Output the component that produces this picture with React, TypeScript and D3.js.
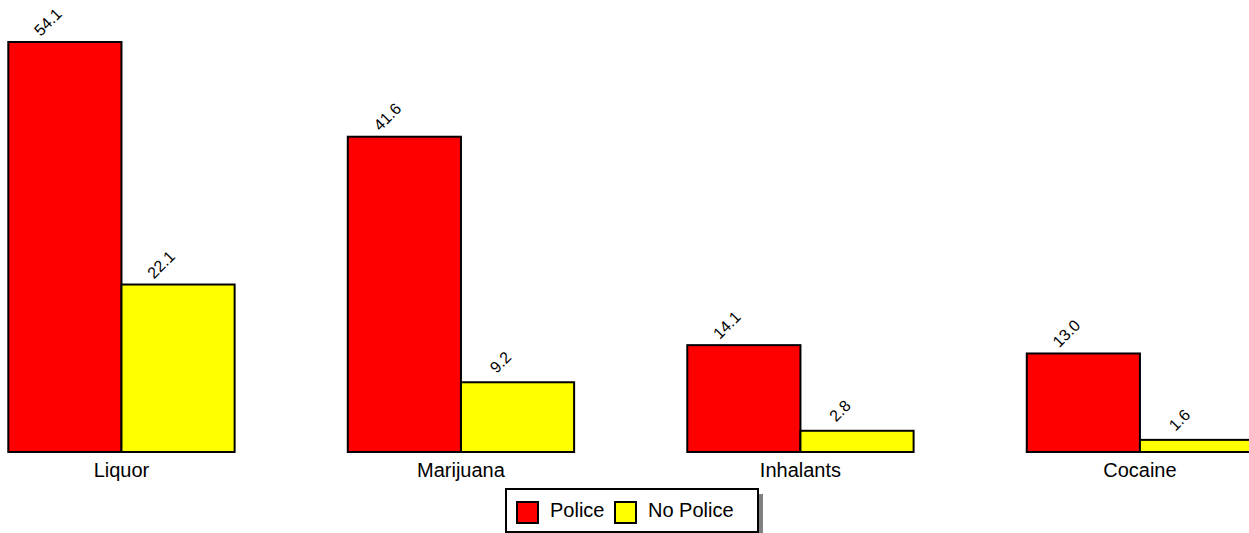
import React from "react";
import * as d3 from "d3";

const categories = ["Liquor", "Marijuana", "Inhalants", "Cocaine"];
const seriesNames = ["Police", "No Police"];
const policeValues = [54.1, 41.6, 14.1, 13.0];
const noPoliceValues = [22.1, 9.2, 2.8, 1.6];
const seriesColors = ["#ff0000", "#ffff00"];

const W = 1249;
const H = 533;
const baseY = 452;
const topY = 42;

export default function App() {
  const series = [policeValues, noPoliceValues];
  const maxV = d3.max(policeValues.concat(noPoliceValues)) as number;
  const x0 = d3
    .scaleBand<string>()
    .domain(categories)
    .range([8.3, 1253.1])
    .paddingInner(1 / 3)
    .paddingOuter(0);
  const x1 = d3
    .scaleBand<string>()
    .domain(seriesNames)
    .range([0, x0.bandwidth()])
    .padding(0);
  const y = d3.scaleLinear().domain([0, maxV]).range([baseY, topY]);
  const font = "Arial, 'Liberation Sans', sans-serif";

  const legendX = 506;
  const legendY = 489;
  const legendW = 252;
  const legendH = 43;

  return (
    <svg
      width={W}
      height={H}
      style={{ position: "absolute", left: 0, top: 0, background: "#fff" }}
    >
      {categories.map((c, ci) => (
        <g key={c}>
          {seriesNames.map((s, si) => {
            const v = series[si][ci];
            const bx = (x0(c) as number) + (x1(s) as number);
            const bw = x1.bandwidth();
            const by = y(v);
            const cx = bx + bw / 2;
            return (
              <g key={s}>
                <rect
                  x={bx}
                  y={by}
                  width={bw}
                  height={baseY - by}
                  fill={seriesColors[si]}
                  stroke="#000"
                  strokeWidth={2}
                />
                <text
                  transform={`translate(${cx - 17},${by - 20}) rotate(-45)`}
                  textAnchor="middle"
                  dominantBaseline="central"
                  fontFamily={font}
                  fontSize={16}
                  fill="#000"
                >
                  {v.toFixed(1)}
                </text>
              </g>
            );
          })}
          <text
            x={(x0(c) as number) + x0.bandwidth() / 2}
            y={477}
            textAnchor="middle"
            fontFamily={font}
            fontSize={20}
            fill="#000"
          >
            {c}
          </text>
        </g>
      ))}
      <g>
        <rect
          x={legendX + 5}
          y={legendY + 5}
          width={legendW}
          height={legendH}
          fill="#808080"
        />
        <rect
          x={legendX}
          y={legendY}
          width={legendW}
          height={legendH}
          fill="#fff"
          stroke="#000"
          strokeWidth={2}
        />
        {seriesNames.map((s, si) => {
          const ox = legendX + 11 + si * 98;
          return (
            <g key={s}>
              <rect
                x={ox}
                y={502}
                width={21}
                height={21}
                fill={seriesColors[si]}
                stroke="#000"
                strokeWidth={2}
              />
              <text
                x={ox + 33}
                y={517}
                fontFamily={font}
                fontSize={20}
                fill="#000"
              >
                {s}
              </text>
            </g>
          );
        })}
      </g>
    </svg>
  );
}
